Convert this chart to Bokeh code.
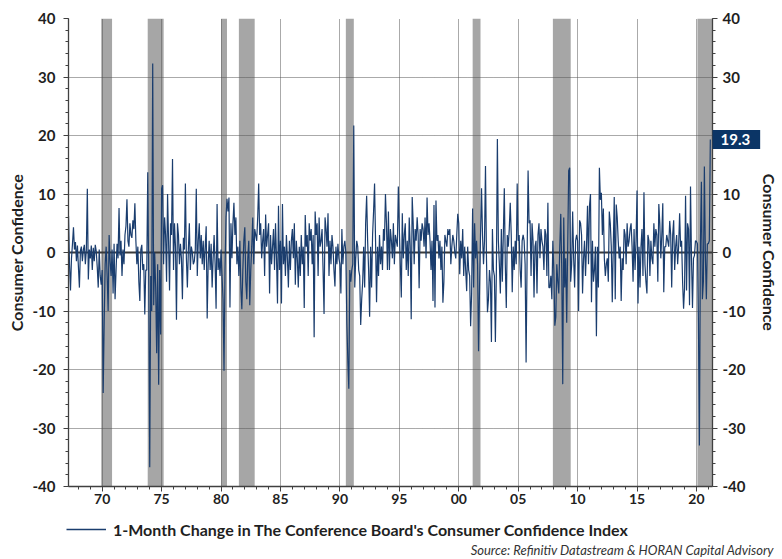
import numpy as np
from bokeh.plotting import figure
from bokeh.models import (LinearAxis, Range1d, FixedTicker, BoxAnnotation, Span,
                          Label, Legend, LegendItem, ColumnDataSource)
from bokeh.embed import file_html
from bokeh.resources import INLINE

# 1-month change in the Conference Board Consumer Confidence Index (points), monthly from Mar 1967
chg_1967_1969 = [
    6.3, -2.0, -6.5, -1.0, 1.5, 4.3, 0.5, 1.8, -1.5, 1.2,                # 1967 Mar-Dec
    -2.5, -6.0, 0.3, 1.0, -1.5, 0.5, 1.3, -2.0, 0.4, 10.9, -4.6, 0.5,    # 1968
    -1.0, 1.2, -3.0, 0.8, -1.5, 1.3, 0.2, -2.5, -6.0, 0.5, -4.0, -5.5,   # 1969
]
chg_1970s = [
    -3.0, -24.0, -12.0, -2.0, 1.0, -4.0, -10.0, 3.0, -1.5, -4.0, 0.5, -7.0,   # 1970
    1.5, -8.0, -3.0, 1.5, -1.0, 7.6, -0.5, 2.0, -4.0, 0.5, -2.0, 3.0,         # 1971
    4.5, 9.1, 2.0, 1.0, 5.0, 3.0, 2.5, 5.5, 4.0, 8.4, 2.0, -2.0,              # 1972
    1.0, -5.0, -8.3, 0.5, 1.3, -3.0, -2.0, -10.6, -3.0, -3.0, 13.7, -5.0,     # 1973
    -36.7, -4.0, -10.0, 32.3, -9.0, 0.0, -6.0, -17.2, -2.0, -22.6, -3.0, -14.0,  # 1974
    10.9, 11.5, -2.0, 6.0, 3.0, -5.0, 10.0, 2.0, -6.5, 5.0, 3.0, 16.0,        # 1975
    -3.0, 5.0, 1.0, -11.5, 5.0, 3.0, -2.0, 1.5, -1.0, -8.0, 2.5, 0.5,         # 1976
    11.8, -1.0, -6.0, 0.5, 5.0, -3.0, 1.0, 0.0, -2.0, -1.5, 0.5, 10.9,        # 1977
    -4.0, 2.0, 5.0, -1.0, 3.0, -2.0, 2.0, -3.0, 1.0, 4.5, -11.3, -2.0,        # 1978
    2.0, -3.0, 1.5, -6.0, -1.0, 3.0, -2.0, -9.6, 8.3, -3.0, -1.0, -4.0,       # 1979
]
chg_1980s = [
    0.5, -4.0, -8.0, -20.2, -3.0, 6.0, 9.2, 7.0, 9.4, -9.4, 5.0, -1.0,        # 1980
    5.0, 8.5, 3.0, 6.0, -2.0, 1.0, -4.0, 2.0, -6.0, -9.7, -3.0, 2.0,          # 1981
    4.3, -5.0, -8.0, -1.0, 2.0, -9.0, -3.0, 1.0, 6.0, -2.0, 4.0, 3.0,         # 1982
    2.0, 6.0, 11.8, 3.0, 5.0, -1.0, 2.0, 4.0, -4.0, 6.5, 1.0, 3.0,            # 1983
    5.0, -7.0, 3.0, -2.0, 1.0, 4.0, -3.0, 5.0, -1.0, -8.7, 8.0, -3.0,         # 1984
    2.0, -8.7, 8.3, -2.0, 1.0, -4.0, 3.0, -1.0, -6.0, 2.0, -3.0, 2.0,         # 1985
    4.0, -1.0, 5.0, -5.5, 2.0, -1.0, -6.0, 1.0, -4.0, 3.0, -2.0, 1.0,         # 1986
    -9.5, 6.4, 1.0, 3.0, -4.0, 5.0, 2.0, 4.0, -2.0, 3.0, -14.5, 7.0,         # 1987
    3.0, 5.0, -4.0, 6.0, 1.0, 2.0, 4.0, -3.0, -10.5, 6.0, 4.0, 1.0,           # 1988
    6.7, -4.0, 2.0, -2.0, 3.0, 1.0, -3.0, -5.8, 1.0, -2.0, 1.5, -1.0,         # 1989
]
chg_1990s = [
    -2.0, -7.0, 4.0, -2.0, 1.0, 2.0, 0.0, -12.0, -18.4, -23.3, -3.0, -5.0,    # 1990
    -3.0, -2.0, 21.7, -6.0, -1.0, 2.0, 1.0, -3.0, -4.0, -12.4, -8.0, -5.0,    # 1991
    1.0, -6.0, 5.0, 9.7, 2.0, -3.0, -11.0, 1.0, -6.0, 3.0, 7.0, 11.8,         # 1992
    2.0, -8.5, 1.0, -4.0, 3.0, -2.0, 1.0, -3.0, 4.0, 2.0, 10.0, 5.0,          # 1993
    -3.0, 7.0, -3.0, 4.0, 2.0, -1.0, 5.0, -2.0, 3.0, 2.0, 1.0, 11.3,          # 1994
    4.0, -2.0, -7.7, 6.7, -1.0, 3.0, 5.0, -3.0, 2.0, -4.0, 6.0, 1.0,          # 1995
    -11.4, 9.5, 5.0, -2.0, 4.0, 2.0, 6.0, 3.0, -6.1, 4.0, 2.0, 5.0,           # 1996
    4.0, 1.0, 6.0, -1.0, 9.4, 3.0, 5.0, 2.0, -3.0, 2.0, -8.3, 8.1,            # 1997
    -9.4, 8.9, 2.0, 3.0, -1.0, 2.0, -3.0, 1.0, -8.6, -5.0, 3.0, 2.0,          # 1998
    1.0, 4.0, 3.0, 4.0, -2.0, 1.0, 3.0, 2.0, 0.0, -1.0, 3.0, 6.6,             # 1999
]
chg_2000s = [
    5.0, -3.7, 2.0, -1.0, 4.0, -4.0, 1.0, -3.0, -6.6, 1.0, -3.0, -4.0,        # 2000
    -12.6, -7.0, 7.5, -6.0, 5.0, -1.0, 2.0, -2.0, -16.9, -6.0, 3.0, 11.0,     # 2001
    3.0, -2.0, 2.0, 14.8, -1.0, -10.2, -8.0, -3.0, -5.0, -15.3, 4.0, -3.0,    # 2002
    -4.0, -15.3, -3.0, 19.4, 2.0, -2.0, -7.0, 4.0, -5.0, 3.0, 11.0, -2.0,     # 2003
    -9.5, 3.0, 1.0, 4.0, 8.5, 3.0, -6.8, 1.0, -3.0, 2.0, -2.0, 11.8,          # 2004
    2.0, 3.0, -3.0, -6.0, 2.0, 3.0, 2.0, -2.0, -18.8, -1.0, 14.0, 5.0,        # 2005
    5.5, -4.0, 5.0, 2.0, -7.7, 1.0, 2.0, -7.0, 3.0, 5.0, -1.0, 4.0,           # 2006
    2.0, 1.0, -3.0, 4.0, 3.0, -4.0, 8.5, -6.0, -6.0, -4.0, -8.0, 2.0,         # 2007
    -3.0, -12.5, -11.0, -2.0, -5.0, -7.0, 1.0, 6.6, -3.0, -22.5, 6.0, -6.0,   # 2008
    -1.0, -12.0, 1.0, 14.0, 14.5, -5.0, -2.0, 7.0, -1.0, -6.0, 2.0, 3.0,      # 2009
]
chg_2010s = [
    2.0, -10.0, 5.5, 5.0, 3.0, -7.0, -1.0, 2.0, -4.0, 1.0, 8.0, -2.0,         # 2010
    8.0, 10.0, -8.5, 2.0, -5.0, -3.0, 1.0, -14.3, 1.0, -6.0, 14.5, 9.0,       # 2011
    10.2, 3.0, 7.5, -1.0, -4.0, -2.0, -1.0, -5.0, 7.0, 5.0, 1.0, -8.5,        # 2012
    1.0, 9.5, -8.0, 8.2, 6.0, 2.0, -1.0, 1.0, -8.3, -1.0, -3.0, 4.0,          # 2013
    3.0, -2.0, 5.0, 1.0, 2.0, 4.0, 5.0, 1.0, -5.0, 4.0, -3.0, 2.0,            # 2014
    10.6, -8.7, 1.0, -6.0, 1.0, 4.0, -4.0, 10.3, -2.0, -5.0, -7.0, 3.0,       # 2015
    2.0, -4.0, 2.0, -1.0, -2.0, 5.0, 1.0, 4.0, 3.0, -5.0, 8.3, 5.0,           # 2016
    -1.0, 3.0, 8.4, -6.8, 1.0, 1.0, 3.0, 2.0, 1.0, 5.4, 3.0, -6.0,            # 2017
    3.0, 5.5, -3.0, 1.0, 3.0, -2.0, 1.0, 6.7, 1.0, 2.0, -5.0, -9.6,           # 2018
    -6.0, 9.7, -6.5, 5.0, 4.0, -9.0, 11.3, -1.0, -9.5, -1.0, -0.5, 2.0,       # 2019
]
chg_2020s = [
    1.9, 1.5, -12.0, -33.0, 1.5, 12.1, -8.0, -5.0, 14.7, -0.5, -8.0, 1.5,     # 2020
    1.5, 2.0, 19.3,                                                           # 2021 Jan-Mar
]
latest_value = 19.3

# NBER recessions (decimal years)
rec_start = [1969.92, 1973.83, 1980.0, 1981.5, 1990.5, 2001.17, 2007.92, 2020.08]
rec_end = [1970.83, 1975.17, 1980.5, 1982.83, 1991.17, 2001.83, 2009.42, 2021.35]

x_ticks = [1970, 1975, 1980, 1985, 1990, 1995, 2000, 2005, 2010, 2015, 2020]
x_labels = ["70", "75", "80", "85", "90", "95", "00", "05", "10", "15", "20"]
y_ticks = [-40, -30, -20, -10, 0, 10, 20, 30, 40]
y_labels = ["-40", "-30", "-20", "-10", "0", "10", "20", "30", "40"]

values = chg_1967_1969 + chg_1970s + chg_1980s + chg_1990s + chg_2000s + chg_2010s + chg_2020s
dates = 1967 + 2 / 12 + np.arange(len(values)) / 12
src = ColumnDataSource(dict(x=dates, y=values))

FONT = "Lato"
NAVY = "#1a3d6e"
TXT = "#1f1f1f"

W, H = 782, 559
BL, BR, BT, BB = 68, 70, 18, 73
X0, X1, Y0, Y1 = 1967.165, 2021.35, -40, 40

p = figure(width=W, height=H, output_backend="svg", toolbar_location=None,
           x_range=Range1d(X0, X1), y_range=Range1d(Y0, Y1),
           min_border_left=BL, min_border_right=BR, min_border_top=BT, min_border_bottom=BB,
           outline_line_color=None, background_fill_color="white")

for s, e in zip(rec_start, rec_end):
    p.add_layout(BoxAnnotation(left=s, right=e, fill_color="#a6a6a6", fill_alpha=1.0,
                               line_color=None, level="image"))

line = p.line("x", "y", source=src, line_color=NAVY, line_width=1.2)

p.add_layout(Span(location=0, dimension="width", line_color="#3a3a3a", line_width=1.8, level="underlay"))

xt = FixedTicker(ticks=x_ticks, minor_ticks=list(range(1968, 2022)))
yt = FixedTicker(ticks=y_ticks, minor_ticks=list(range(-40, 41, 2)))

ax = p.xaxis[0]
ax.ticker = xt
ax.major_label_overrides = {t: l for t, l in zip(x_ticks, x_labels)}
ly = p.yaxis[0]
ly.ticker = yt
ry = LinearAxis(ticker=yt)
p.add_layout(ry, "right")

for a in (ax, ly, ry):
    a.axis_line_color = "#404040"
    a.axis_line_width = 1.3
    a.major_tick_line_color = "#404040"
    a.minor_tick_line_color = "#404040"
    a.major_tick_in = 0
    a.major_tick_out = 5
    a.minor_tick_in = 0
    a.minor_tick_out = 3
    a.major_label_text_font = FONT
    a.major_label_text_font_style = "bold"
    a.major_label_text_font_size = "15px"
    a.major_label_text_color = TXT
    a.axis_label_text_font = FONT
    a.axis_label_text_font_style = "bold"
    a.axis_label_text_font_size = "16px"
    a.axis_label_text_color = TXT
for a in (ly, ry):
    a.major_label_overrides = {t: l for t, l in zip(y_ticks, y_labels)}
ax.major_label_text_font_size = "14px"
ax.major_label_standoff = 2
ly.major_label_standoff = 8
ry.major_label_standoff = 5
ly.axis_label = "Consumer Confidence"
ry.axis_label = "Consumer Confidence"
ly.axis_label_standoff = 4
ry.axis_label_standoff = 12

for g in (p.xgrid[0], p.ygrid[0]):
    g.grid_line_color = "#555555"
    g.grid_line_dash = "1 1"
    g.grid_line_width = 1
p.xgrid[0].ticker = xt
p.ygrid[0].ticker = yt

# transparent overlay figure (absolutely positioned over the chart) sharing the same
# data coordinates, used for the texts that sit outside the plotting frame
ppx = (W - BL - BR) / (X1 - X0)
ppy = (H - BT - BB) / (Y1 - Y0)
ov = figure(width=W, height=H, output_backend="svg", toolbar_location=None,
            x_range=Range1d(X0 - BL / ppx, X1 + BR / ppx),
            y_range=Range1d(Y0 - BB / ppy, Y1 + BT / ppy),
            x_axis_type=None, y_axis_type=None, min_border=0,
            outline_line_color=None, background_fill_alpha=0, border_fill_alpha=0,
            styles={"position": "absolute", "left": "0px", "top": "0px"})
ov.grid.visible = False

# legend key: a renderer with the series' style but no drawable point
legend_src = ColumnDataSource(dict(x=np.array([np.nan]), y=np.array([np.nan])))
sample = ov.line("x", "y", source=legend_src, line_color=NAVY, line_width=1.3)
legend = Legend(items=[LegendItem(label="1-Month Change in The Conference Board's Consumer Confidence Index",
                                  renderers=[sample])],
                location=(66, 20), orientation="horizontal", border_line_color=None,
                background_fill_alpha=0, glyph_width=40, glyph_height=20, label_standoff=7,
                margin=0, padding=4, label_text_font=FONT, label_text_font_style="bold",
                label_text_font_size="16px", label_text_color=TXT)
ov.add_layout(legend)

ov.add_layout(Label(x=X1, y=latest_value, text=f"{latest_value:.1f}", text_color="white", text_font=FONT,
                    text_font_style="bold", text_font_size="15px", text_align="left",
                    text_baseline="middle", background_fill_color="#0b3566",
                    padding=dict(left=8, right=10, top=4, bottom=4)))

ov.add_layout(Label(x=2001.0, y=-50.9, text="Source: Refinitiv Datastream & HORAN Capital Advisory",
                    text_font=FONT, text_font_style="italic", text_font_size="13px",
                    text_color="#333333", text_baseline="middle"))

open("out.html", "w").write(file_html([p, ov], INLINE))
